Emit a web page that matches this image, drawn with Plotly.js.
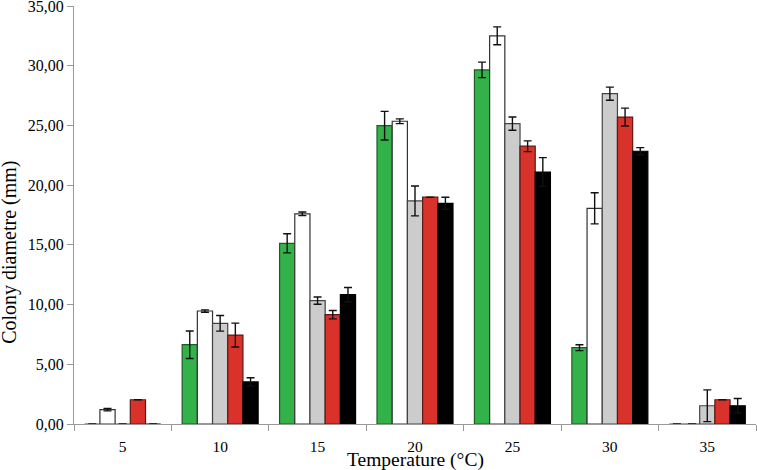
<!DOCTYPE html>
<html><head><meta charset="utf-8">
<script src="https://cdn.plot.ly/plotly-3.0.1.min.js"></script>
<style>body{margin:0;padding:0;background:#fff}#chart{width:757px;height:470px}</style>
</head><body><div id="chart"></div>
<script>
const temperatures = ["5","10","15","20","25","30","35"];
const seriesNames = ["Series 1","Series 2","Series 3","Series 4","Series 5"];
const green  = [0, 6.64, 15.13, 24.98, 29.65, 6.39, 0];
const white  = [1.2, 9.46, 17.6, 25.35, 32.5, 18.06, 0];
const gray   = [0, 8.43, 10.33, 18.68, 25.15, 27.66, 1.53];
const red    = [2.03, 7.45, 9.15, 18.99, 23.26, 25.7, 2.03];
const black  = [0, 3.52, 10.83, 18.48, 21.1, 22.84, 1.53];
const greenErr = [0, 1.15, 0.8, 1.2, 0.65, 0.25, 0];
const whiteErr = [0.1, 0.1, 0.15, 0.2, 0.75, 1.3, 0];
const grayErr  = [0, 0.65, 0.3, 1.25, 0.55, 0.55, 1.33];
const redErr   = [0, 1.0, 0.35, 0, 0.45, 0.75, 0];
const blackErr = [0, 0.35, 0.6, 0.5, 1.2, 0.3, 0.6];
const yTicks = [0, 5, 10, 15, 20, 25, 30, 35];

const values = [green, white, gray, red, black];
const errs = [greenErr, whiteErr, grayErr, redErr, blackErr];
const fills = ["#33b24a", "#ffffff", "#cccccc", "#d9322a", "#000000"];
const lines = ["#1f5a26", "#333333", "#444444", "#5a1a16", "#000000"];
const serif = "Liberation Serif";

const traces = values.map((v, i) => ({
  type: "bar",
  name: seriesNames[i],
  x: temperatures,
  y: v,
  marker: {color: fills[i], line: {color: lines[i], width: 1.2}},
  error_y: {type: "data", array: errs[i], visible: true, color: "#111", thickness: 1.4, width: 4},
  showlegend: false
}));

const layout = {
  width: 757, height: 470,
  margin: {l: 74, r: 1, t: 6, b: 46},
  paper_bgcolor: "#fff", plot_bgcolor: "#fff",
  separators: ",.",
  barmode: "group",
  bargap: 0.22,
  bargroupgap: 0,
  font: {family: serif, color: "#000", size: 15},
  xaxis: {
    type: "category",
    showgrid: false, zeroline: false,
    showline: true, linecolor: "#999", linewidth: 1,
    ticks: "outside", tickson: "boundaries", ticklen: 6, tickcolor: "#999",
    ticklabelstandoff: 8,
    tickfont: {family: serif, size: 15.5, color: "#000"}
  },
  yaxis: {
    range: [0, 35], tickmode: "array", tickvals: yTicks, tickformat: ".2f",
    ticklabeloverflow: "allow",
    showgrid: false, zeroline: false,
    showline: true, linecolor: "#999", linewidth: 1,
    ticks: "outside", ticklen: 6, tickcolor: "#999",
    tickfont: {family: serif, size: 16, color: "#000"}
  },
  annotations: [
    {text: "Colony diametre (mm)", xref: "paper", yref: "paper", x: -0.095, y: 0.41,
     xanchor: "center", yanchor: "middle", textangle: -90, showarrow: false,
     font: {family: serif, size: 20, color: "#000"}},
    {text: "Temperature (°C)", xref: "paper", yref: "paper", x: 0.5, y: 0,
     xanchor: "center", yanchor: "top", yshift: -23, showarrow: false,
     font: {family: serif, size: 19.5, color: "#000"}}
  ]
};
Plotly.newPlot("chart", traces, layout, {displayModeBar: false, staticPlot: true});
</script></body></html>
